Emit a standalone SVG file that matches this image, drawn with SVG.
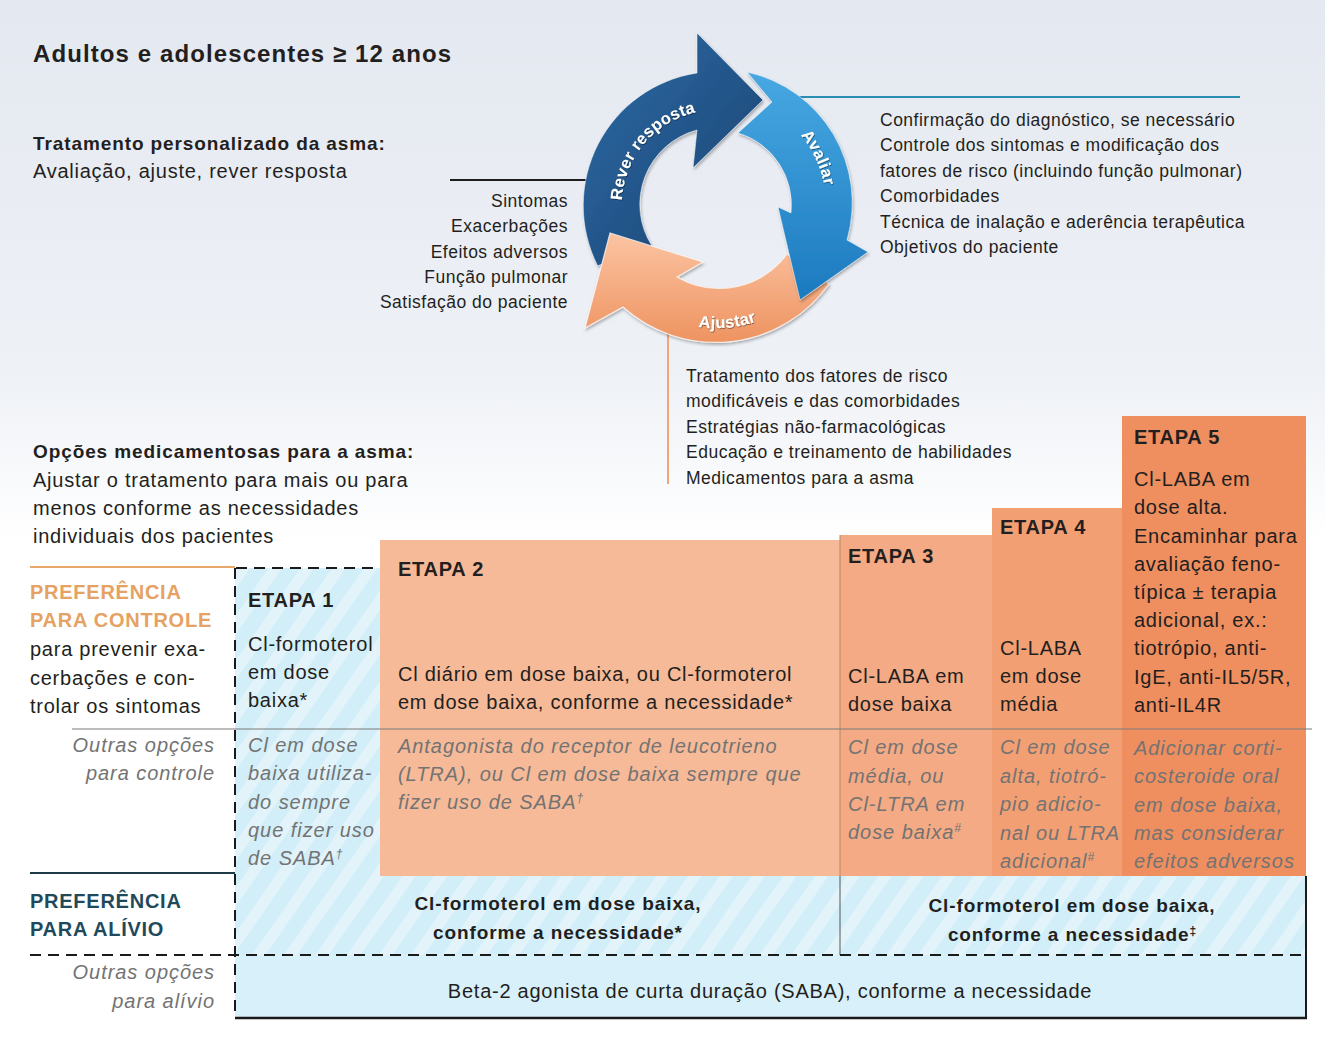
<svg xmlns="http://www.w3.org/2000/svg" width="1325" height="1039" viewBox="0 0 1325 1039">
<defs>
<style>
text{font-family:"Liberation Sans",Arial,sans-serif;fill:#231f20}
.f17{font-size:17.5px;letter-spacing:0.5px}
.f19{font-size:19px;letter-spacing:0.9px}
.f20{font-size:20px;letter-spacing:0.75px}
.b{font-weight:bold}
.i{font-style:italic;fill:#737373;letter-spacing:0.95px}
.r{text-anchor:end}
.c{text-anchor:middle}
.lab{font-size:16.5px;font-weight:bold;fill:#ffffff;letter-spacing:0.3px}
.sup{font-size:12px;letter-spacing:0}
.dash{stroke:#1a1a1a;stroke-width:2;stroke-dasharray:11 7;fill:none}
</style>
<linearGradient id="bg" x1="0" y1="0" x2="0" y2="1039" gradientUnits="userSpaceOnUse">
<stop offset="0" stop-color="#e4e8f0"/>
<stop offset="0.36" stop-color="#eef1f6"/>
<stop offset="0.52" stop-color="#ffffff"/>
</linearGradient>
<linearGradient id="gDark" x1="0" y1="0" x2="1" y2="1">
<stop offset="0" stop-color="#2f6ca6"/>
<stop offset="1" stop-color="#17406f"/>
</linearGradient>
<linearGradient id="gLight" x1="0" y1="0" x2="0" y2="1">
<stop offset="0" stop-color="#47a8e2"/>
<stop offset="1" stop-color="#1c7abf"/>
</linearGradient>
<linearGradient id="gOr" x1="0" y1="0" x2="0" y2="1">
<stop offset="0" stop-color="#fbc4a3"/>
<stop offset="1" stop-color="#ee9360"/>
</linearGradient>
<pattern id="stripes" width="26" height="26" patternUnits="userSpaceOnUse" patternTransform="rotate(35)">
<rect width="26" height="26" fill="#d2eef8"/>
<rect width="11" height="26" fill="#e2f4fa"/>
</pattern>
<filter id="sh" x="-10%" y="-10%" width="125%" height="130%">
<feDropShadow dx="1" dy="2" stdDeviation="1.5" flood-color="#000" flood-opacity="0.3"/>
</filter>
<filter id="tsh" x="-10%" y="-30%" width="120%" height="160%">
<feDropShadow dx="0.6" dy="0.8" stdDeviation="0.6" flood-color="#000" flood-opacity="0.55"/>
</filter>
<path id="pRever" d="M 627.7 237.5 A 95 95 0 0 1 733.5 111.4"/>
<path id="pAval" d="M 771.5 110.6 A 109 109 0 0 1 824.3 223.9"/>
<path id="pAjus" d="M 675 321 A 123 123 0 0 0 778.5 311.5"/>
</defs>

<rect x="0" y="0" width="1325" height="1039" fill="url(#bg)"/>

<!-- header texts -->
<g id="title">
<text x="33" y="62" class="b" font-size="24" letter-spacing="1.1">Adultos e adolescentes ≥ 12 anos</text>
</g>
<g id="intro-cycle">
<text x="33" y="150" class="b f19">Tratamento personalizado da asma:</text>
<text x="33" y="178" class="f20">Avaliação, ajuste, rever resposta</text>
</g>

<!-- connectors -->
<g id="connectors">
<line x1="450" y1="180" x2="600" y2="180" stroke="#1d1d1d" stroke-width="2.2"/>
<line x1="790" y1="97" x2="1240" y2="97" stroke="#2a8db2" stroke-width="2"/>
<line x1="668" y1="325" x2="668" y2="484" stroke="#f2a677" stroke-width="2"/>
</g>

<!-- cycle -->
<g id="arrow-rever" filter="url(#sh)">
<path d="M 597.6 265.8 A 134 134 0 0 1 697 73 L 697 33 L 763 100 L 693 168 L 697 130 A 77 77 0 0 0 652 246 Z" fill="url(#gDark)" stroke="#ffffff" stroke-width="1" stroke-opacity="0.5"/>
<text class="lab" filter="url(#tsh)"><textPath href="#pRever" startOffset="50%" text-anchor="middle">Rever resposta</textPath></text>
</g>
<g id="arrow-ajustar" filter="url(#sh)">
<path d="M 829 284 A 139 139 0 0 1 623 307 L 585 328 L 610 233 L 703 262 L 677 277 A 84 84 0 0 0 787 254 Z" fill="url(#gOr)" stroke="#ffffff" stroke-width="1.2" stroke-opacity="0.7"/>
<text class="lab" filter="url(#tsh)"><textPath href="#pAjus" startOffset="50%" text-anchor="middle">Ajustar</textPath></text>
</g>
<g id="arrow-avaliar" filter="url(#sh)">
<path d="M 747 72 A 134 134 0 0 1 847 240 L 868 252 L 800 300 L 778 207 L 791 213 A 75 75 0 0 0 738 133 L 772 102 Z" fill="url(#gLight)" stroke="#ffffff" stroke-width="1" stroke-opacity="0.5"/>
<text class="lab" filter="url(#tsh)"><textPath href="#pAval" startOffset="50%" text-anchor="middle">Avaliar</textPath></text>
</g>

<g id="list-rever">
<text x="568" y="207" class="f17 r">Sintomas</text>
<text x="568" y="232" class="f17 r">Exacerbações</text>
<text x="568" y="258" class="f17 r">Efeitos adversos</text>
<text x="568" y="283" class="f17 r">Função pulmonar</text>
<text x="568" y="308" class="f17 r">Satisfação do paciente</text>
</g>
<g id="list-avaliar">
<text x="880" y="126" class="f17">Confirmação do diagnóstico, se necessário</text>
<text x="880" y="151" class="f17">Controle dos sintomas e modificação dos</text>
<text x="880" y="177" class="f17">fatores de risco (incluindo função pulmonar)</text>
<text x="880" y="202" class="f17">Comorbidades</text>
<text x="880" y="228" class="f17">Técnica de inalação e aderência terapêutica</text>
<text x="880" y="253" class="f17">Objetivos do paciente</text>
</g>
<g id="list-ajustar">
<text x="686" y="382" class="f17">Tratamento dos fatores de risco</text>
<text x="686" y="407" class="f17">modificáveis e das comorbidades</text>
<text x="686" y="433" class="f17">Estratégias não-farmacológicas</text>
<text x="686" y="458" class="f17">Educação e treinamento de habilidades</text>
<text x="686" y="484" class="f17">Medicamentos para a asma</text>
</g>

<g id="intro-options">
<text x="33" y="458" class="b f19">Opções medicamentosas para a asma:</text>
<text x="33" y="487" class="f20">Ajustar o tratamento para mais ou para</text>
<text x="33" y="515" class="f20">menos conforme as necessidades</text>
<text x="33" y="543" class="f20">individuais dos pacientes</text>
</g>

<!-- step boxes -->
<g id="etapa1">
<rect x="235" y="568" width="145" height="310" fill="url(#stripes)"/>
<text x="248" y="607" class="b f20">ETAPA 1</text>
<text x="248" y="651" class="f20">Cl-formoterol</text>
<text x="248" y="679" class="f20">em dose</text>
<text x="248" y="707" class="f20">baixa*</text>
<text x="248" y="752" class="f20 i">Cl em dose</text>
<text x="248" y="780" class="f20 i">baixa utiliza-</text>
<text x="248" y="809" class="f20 i">do sempre</text>
<text x="248" y="837" class="f20 i">que fizer uso</text>
<text x="248" y="865" class="f20 i">de SABA<tspan class="sup" dy="-7">†</tspan></text>
</g>
<g id="etapa2">
<rect x="380" y="540" width="460" height="336" fill="#f6ba98"/>
<text x="398" y="576" class="b f20">ETAPA 2</text>
<text x="398" y="681" class="f20">Cl diário em dose baixa, ou Cl-formoterol</text>
<text x="398" y="709" class="f20">em dose baixa, conforme a necessidade*</text>
<text x="398" y="753" class="f20 i">Antagonista do receptor de leucotrieno</text>
<text x="398" y="781" class="f20 i">(LTRA), ou Cl em dose baixa sempre que</text>
<text x="398" y="809" class="f20 i">fizer uso de SABA<tspan class="sup" dy="-7">†</tspan></text>
</g>
<g id="etapa3">
<rect x="840" y="535" width="152" height="341" fill="#f4aa84"/>
<line x1="840" y1="535" x2="840" y2="876" stroke="#b8866a" stroke-width="1"/>
<text x="848" y="563" class="b f20">ETAPA 3</text>
<text x="848" y="683" class="f20">Cl-LABA em</text>
<text x="848" y="711" class="f20">dose baixa</text>
<text x="848" y="754" class="f20 i">Cl em dose</text>
<text x="848" y="783" class="f20 i">média, ou</text>
<text x="848" y="811" class="f20 i">Cl-LTRA em</text>
<text x="848" y="839" class="f20 i">dose baixa<tspan class="sup" dy="-7">#</tspan></text>
</g>
<g id="etapa4">
<rect x="992" y="508" width="130" height="368" fill="#f29f74"/>
<text x="1000" y="534" class="b f20">ETAPA 4</text>
<text x="1000" y="655" class="f20">Cl-LABA</text>
<text x="1000" y="683" class="f20">em dose</text>
<text x="1000" y="711" class="f20">média</text>
<text x="1000" y="754" class="f20 i">Cl em dose</text>
<text x="1000" y="783" class="f20 i">alta, tiotró-</text>
<text x="1000" y="811" class="f20 i">pio adicio-</text>
<text x="1000" y="840" class="f20 i" letter-spacing="0.5">nal ou LTRA</text>
<text x="1000" y="868" class="f20 i">adicional<tspan class="sup" dy="-7">#</tspan></text>
</g>
<g id="etapa5">
<rect x="1122" y="416" width="184" height="460" fill="#ef8e5f"/>
<text x="1134" y="444" class="b f20">ETAPA 5</text>
<text x="1134" y="486" class="f20">Cl-LABA em</text>
<text x="1134" y="514" class="f20">dose alta.</text>
<text x="1134" y="543" class="f20">Encaminhar para</text>
<text x="1134" y="571" class="f20">avaliação feno-</text>
<text x="1134" y="599" class="f20">típica ± terapia</text>
<text x="1134" y="627" class="f20">adicional, ex.:</text>
<text x="1134" y="655" class="f20">tiotrópio, anti-</text>
<text x="1134" y="684" class="f20" letter-spacing="0.4">IgE, anti-IL5/5R,</text>
<text x="1134" y="712" class="f20">anti-IL4R</text>
<text x="1134" y="755" class="f20 i">Adicionar corti-</text>
<text x="1134" y="783" class="f20 i">costeroide oral</text>
<text x="1134" y="812" class="f20 i">em dose baixa,</text>
<text x="1134" y="840" class="f20 i">mas considerar</text>
<text x="1134" y="868" class="f20 i" letter-spacing="0.5">efeitos adversos</text>
</g>

<!-- reliever rows -->
<g id="alivio-pref">
<rect x="235" y="876" width="1071" height="79" fill="url(#stripes)"/>
<line x1="840" y1="876" x2="840" y2="955" stroke="#555" stroke-width="1"/>
<text x="558" y="910" class="b f19 c">Cl-formoterol em dose baixa,</text>
<text x="558" y="939" class="b f19 c">conforme a necessidade*</text>
<text x="1072" y="912" class="b f19 c">Cl-formoterol em dose baixa,</text>
<text x="1072" y="941" class="b f19 c">conforme a necessidade<tspan class="sup" dy="-6">‡</tspan></text>
</g>
<g id="alivio-outras">
<rect x="235" y="955" width="1071" height="63" fill="#d8f0f9"/>
<text x="770" y="998" class="f20 c">Beta-2 agonista de curta duração (SABA), conforme a necessidade</text>
</g>

<!-- row labels -->
<g id="label-controle">
<text x="30" y="599" class="b f20" style="fill:#e5a263">PREFERÊNCIA</text>
<text x="30" y="627" class="b f20" style="fill:#e5a263">PARA CONTROLE</text>
<text x="30" y="656" class="f20">para prevenir exa-</text>
<text x="30" y="685" class="f20">cerbações e con-</text>
<text x="30" y="713" class="f20">trolar os sintomas</text>
</g>
<g id="label-controle-outras">
<text x="215" y="752" class="f20 i r">Outras opções</text>
<text x="215" y="780" class="f20 i r">para controle</text>
</g>
<g id="label-alivio">
<text x="30" y="908" class="b f20" style="fill:#1f4a5c">PREFERÊNCIA</text>
<text x="30" y="936" class="b f20" style="fill:#1f4a5c">PARA ALÍVIO</text>
</g>
<g id="label-alivio-outras">
<text x="215" y="979" class="f20 i r">Outras opções</text>
<text x="215" y="1008" class="f20 i r">para alívio</text>
</g>

<!-- grid lines -->
<g id="grid">
<line x1="30" y1="567" x2="235" y2="567" stroke="#e8a86c" stroke-width="2"/>
<line x1="236" y1="568" x2="380" y2="568" class="dash"/>
<line x1="235" y1="568" x2="235" y2="1018" class="dash"/>
<line x1="72" y1="729" x2="1312" y2="729" stroke="#7a7a7a" stroke-width="1"/>
<line x1="30" y1="873" x2="235" y2="873" stroke="#1f3b48" stroke-width="2.2"/>
<line x1="30" y1="955" x2="1306" y2="955" class="dash"/>
<line x1="1306" y1="876" x2="1306" y2="1019" stroke="#1a1a1a" stroke-width="2"/>
<line x1="235" y1="1018" x2="1307" y2="1018" stroke="#1a1a1a" stroke-width="2.5"/>
</g>
</svg>
